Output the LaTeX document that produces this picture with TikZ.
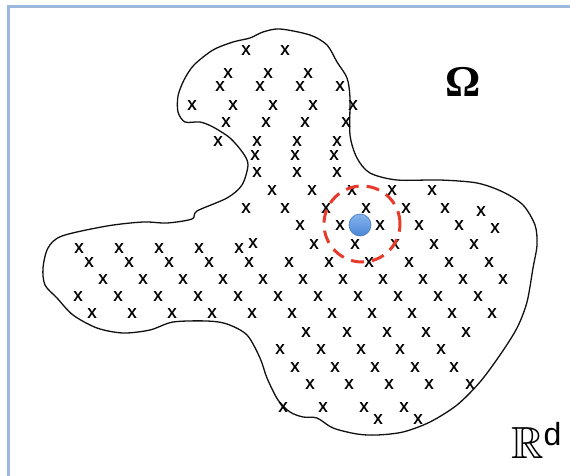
\documentclass[tikz,border=0pt]{standalone}
\usepackage{fontspec}
\usepackage{amssymb}
\setmainfont{Liberation Serif}
\setsansfont{Liberation Sans}
\newfontfamily\markfont[FakeBold=0.9]{Liberation Sans}
\usetikzlibrary{positioning}
\definecolor{ink}{HTML}{111111}
\definecolor{frameblue}{HTML}{9DB8DE}
\definecolor{ringred}{HTML}{E83A2B}
\definecolor{dotblue}{HTML}{4C86D6}
\definecolor{dotlight}{HTML}{86B4EE}
\definecolor{dotedge}{HTML}{4777BD}
\tikzset{
  frame/.style={draw=frameblue,line width=3pt},
  region/.style={draw=ink,line width=1.3pt,line join=round},
  sample/.style={inner sep=0pt,text=black,font=\markfont\fontsize{18}{18}\selectfont},
  centre/.style={circle,inner sep=0pt,minimum size=22pt,top color=dotlight,bottom color=dotblue,draw=dotedge,line width=0.6pt},
  ring/.style={circle,inner sep=0pt,minimum size=76pt,draw=ringred,line width=3pt,dash pattern=on 13pt off 8pt}
}

\begin{document}
\begin{tikzpicture}[x=1pt,y=-1pt]
  \clip (0,0) rectangle (570,476);
  \fill[white] (0,0) rectangle (570,476);
  \draw[frame] (8.5,6.5) rectangle (620,520);
  \draw[region] plot[smooth cycle,tension=0.5] coordinates {
    (280,29) (310,35) (327,45) (337,62) (347,78) (350,98) (350,135) (357,158)
    (370,173) (397,180) (440,180) (477,183) (503,192) (523,205) (535,225)
    (537,245) (533,268) (527,302) (517,328) (500,355) (480,382) (457,405)
    (430,422) (403,432) (377,435) (357,434) (333,428) (317,418) (303,417)
    (290,412) (278,400) (267,378) (260,358) (247,335) (227,324) (207,321)
    (173,322) (150,330) (123,333) (97,328) (73,315) (57,298) (45,285)
    (43,268) (48,248) (62,236) (107,226) (143,222) (167,223) (192,219)
    (197,211) (227,198) (242,185) (248,165) (243,153) (230,138) (213,127)
    (200,122) (185,122) (178,112) (178,96) (184,80) (194,65) (213,50)
    (233,42) (250,38) (263,32)};
  \foreach \y/\xs in {50/{246,285},73/{228,268,308},86/{220,260,300,340},
      105/{192,233,273,313,353},122/{226,266,305,346},141/{218,257,297,337},
      155/{255,295,334},172/{257,297,337},190/{272,312,352,392,432},
      208/{246,285,326,366,406,445},211/{481},225/{300,340,380,419,459},
      228/{495},243/{253},244/{314,355,395,434,474},248/{79,119,159,199,239},
      262/{89,129,169,209,249,289,329,369,409,449,489},
      279/{103,143,183,223,263,303,343,383,423,463,503},
      296/{78,118,158,198,238,278,318,358,398,438,478},
      313/{92,132,172,212,252,292,332,372,412,452,492},
      332/{306,347,387,426,466},349/{280,321,361,400,441},
      367/{295,335,375,415,454},384/{310,349,389,429,470},
      407/{283,323,364,404},419/{378,418}}
    \foreach \x in \xs
      \node[sample] (m-\y-\x) at (\x,\y) {x};
  \node[centre] (pt) at (360,225) {};
  \node[ring] (nbhd) at (362,224) {};
  \node[anchor=base,inner sep=0pt,font=\bfseries\fontsize{44}{44}\selectfont] (omega) at (463,97) {Ω};
  \node[anchor=base west,inner sep=0pt] (rd) at (511,458)
    {\fontsize{45}{45}\selectfont$\mathbb{R}$\raisebox{13pt}{\sffamily\fontsize{32}{32}\selectfont d}};
\end{tikzpicture}
\end{document}
